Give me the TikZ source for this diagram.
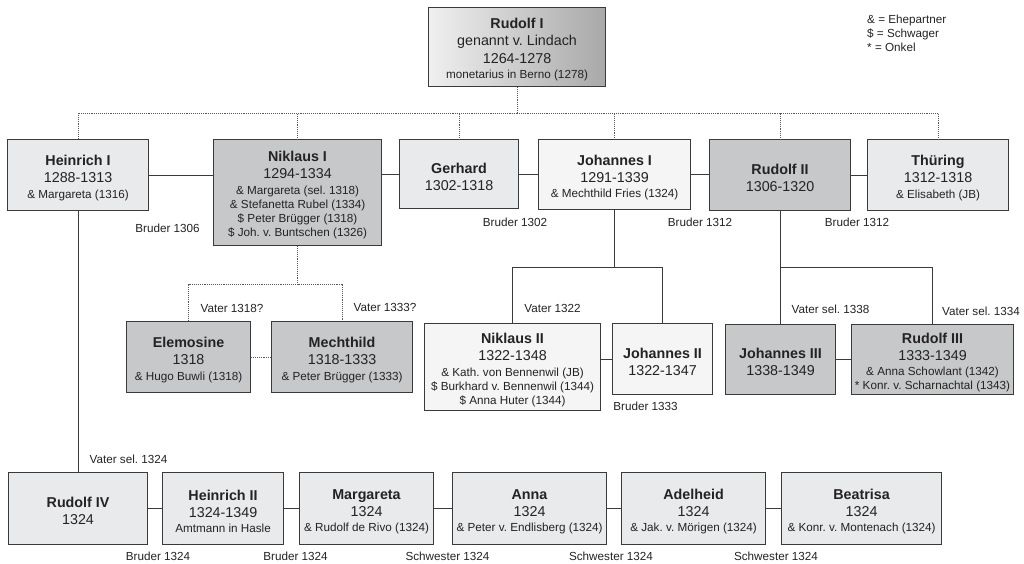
\documentclass[tikz,border=0pt]{standalone}
\usepackage{fontspec}
\setmainfont{Liberation Sans}
\frenchspacing
\definecolor{boxlight}{RGB}{233,234,236}
\definecolor{boxdark}{RGB}{199,200,202}
\definecolor{boxpale}{RGB}{245,245,245}
\definecolor{boxline}{RGB}{58,58,58}
\definecolor{ink}{RGB}{35,35,35}
\newcommand{\sm}{\fontsize{11.7}{14}\selectfont}
\newcommand{\nm}[1]{\rule{0pt}{16pt}\textbf{#1}}

\begin{document}
\begin{tikzpicture}[x=1pt, y=-1pt,
    person/.style={draw=boxline, line width=1.1pt, align=center, text=ink, inner sep=1pt,
        anchor=north west, font=\fontsize{14.3}{14}\selectfont},
    lightbox/.style={person, fill=boxlight},
    darkbox/.style={person, fill=boxdark},
    palebox/.style={person, fill=boxpale},
    kin/.style={draw=boxline, line width=1.1pt},
    descent/.style={draw=boxline!85, line width=0.9pt, densely dotted},
    note/.style={text=ink, font=\sm, inner sep=0pt}]
    \useasboundingbox (0,0) rectangle (1024,563);

    % Stammvater
    \node[person, left color=black!6, right color=black!34, minimum width=177, minimum height=79] (rudolfI) at (428,7)
        {\nm{Rudolf I}\\[2.5pt] genannt v. Lindach\\[4pt] 1264-1278\\[1.5pt] \sm monetarius in Berno (1278)};

    % Legende
    \node[note, anchor=north west, align=left] (legend) at (867,15)
        {\sm\& = Ehepartner\\ \sm\$ = Schwager\\ \sm* = Onkel};

    % Söhne
    \node[lightbox, minimum width=141, minimum height=71] (heinrichI) at (7,139)
        {\nm{Heinrich I}\\[3pt] 1288-1313\\[1.5pt] \sm \& Margareta (1316)};
    \node[darkbox, minimum width=168, minimum height=106] (niklausI) at (213,139)
        {\nm{Niklaus I}\\[3pt] 1294-1334\\[2pt] \sm \& Margareta (sel. 1318)\\ \sm \& Stefanetta Rubel (1334)\\
         \sm \$ Peter Brügger (1318)\\ \sm \$ Joh. v. Buntschen (1326)};
    \node[lightbox, minimum width=119, minimum height=69] (gerhard) at (399,139)
        {\nm{Gerhard}\\[3pt] 1302-1318};
    \node[palebox, minimum width=152, minimum height=70] (johannesI) at (538,139)
        {\nm{Johannes I}\\[3pt] 1291-1339\\[1.5pt] \sm \& Mechthild Fries (1324)};
    \node[darkbox, minimum width=141, minimum height=71] (rudolfII) at (709,139)
        {\nm{Rudolf II}\\[3pt] 1306-1320};
    \node[lightbox, minimum width=141, minimum height=71] (thuering) at (867,139)
        {\nm{Thüring}\\[3pt] 1312-1318\\[1.5pt] \sm \& Elisabeth (JB)};

    % Enkel
    \node[darkbox, minimum width=124, minimum height=71] (elemosine) at (126,321)
        {\nm{Elemosine}\\[3pt] 1318\\[1.5pt] \sm \& Hugo Buwli (1318)};
    \node[darkbox, minimum width=141, minimum height=71] (mechthild) at (271,321)
        {\nm{Mechthild}\\[3pt] 1318-1333\\[1.5pt] \sm \& Peter Brügger (1333)};
    \node[palebox, minimum width=176, minimum height=87] (niklausII) at (424,323)
        {\nm{Niklaus II}\\[3pt] 1322-1348\\[1.5pt] \sm \& Kath. von Bennenwil (JB)\\
         \sm \$ Burkhard v. Bennenwil (1344)\\ \sm \$ Anna Huter (1344)};
    \node[palebox, minimum width=100, minimum height=71] (johannesII) at (612,323)
        {\nm{Johannes II}\\[3pt] 1322-1347};
    \node[darkbox, minimum width=110, minimum height=70] (johannesIII) at (725,324)
        {\nm{Johannes III}\\[3pt] 1338-1349};
    \node[darkbox, minimum width=162, minimum height=70] (rudolfIII) at (851,324)
        {\nm{Rudolf III}\\[3pt] 1333-1349\\[1.5pt] \sm \& Anna Schowlant (1342)\\ \sm * Konr. v. Scharnachtal (1343)};

    % Kinder von Heinrich I
    \node[lightbox, minimum width=139, minimum height=72] (rudolfIV) at (8,472)
        {\nm{Rudolf IV}\\[3pt] 1324};
    \node[lightbox, minimum width=121, minimum height=72] (heinrichII) at (162,472)
        {\nm{Heinrich II}\\[3pt] 1324-1349\\[1.5pt] \sm Amtmann in Hasle};
    \node[lightbox, minimum width=134, minimum height=72] (margareta) at (299,472)
        {\nm{Margareta}\\[3pt] 1324\\[1.5pt] \sm \& Rudolf de Rivo (1324)};
    \node[lightbox, minimum width=154, minimum height=72] (anna) at (452,472)
        {\nm{Anna}\\[3pt] 1324\\[1.5pt] \sm \& Peter v. Endlisberg (1324)};
    \node[lightbox, minimum width=144, minimum height=72] (adelheid) at (621,472)
        {\nm{Adelheid}\\[3pt] 1324\\[1.5pt] \sm \& Jak. v. Mörigen (1324)};
    \node[lightbox, minimum width=160, minimum height=72] (beatrisa) at (781,472)
        {\nm{Beatrisa}\\[3pt] 1324\\[1.5pt] \sm \& Konr. v. Montenach (1324)};

    % Abstammung (gepunktet)
    \draw[descent] (rudolfI.south) -- ++(0,26) coordinate (sonsBar);
    \foreach \son in {heinrichI,niklausI,gerhard,johannesI,rudolfII,thuering}
        \draw[descent] (sonsBar) -| (\son.north);
    \draw[descent] (niklausI.south) -- ++(0,38) coordinate (nikBar);
    \foreach \kid in {elemosine,mechthild}
        \draw[descent] (nikBar) -| (\kid.north);
    \draw[descent] (elemosine.east) -- (elemosine.east -| mechthild.west);

    % Abstammung (sicher)
    \draw[kin] (johannesI.south) -- ++(0,57) coordinate (johBar);
    \foreach \kid in {niklausII,johannesII}
        \draw[kin] (johBar) -| (\kid.north);
    \draw[kin] (rudolfII.south) -- ++(0,56) coordinate (rudBar);
    \foreach \kid in {johannesIII,rudolfIII}
        \draw[kin] (rudBar) -| (\kid.north);
    \draw[kin] (heinrichI.south) -- (rudolfIV.north);

    % Geschwister
    \draw[kin] (heinrichI.east) -- (heinrichI.east -| niklausI.west);
    \draw[kin] (gerhard.west) -- (gerhard.west -| niklausI.east);
    \foreach \a/\b in {gerhard/johannesI,johannesI/rudolfII,rudolfII/thuering}
        \draw[kin] (\a.east) -- (\a.east -| \b.west);
    \draw[kin] (johannesII.west) -- (johannesII.west -| niklausII.east);
    \draw[kin] (johannesIII.east) -- (johannesIII.east -| rudolfIII.west);
    \foreach \a/\b in {rudolfIV/heinrichII,heinrichII/margareta,margareta/anna,anna/adelheid,adelheid/beatrisa}
        \draw[kin] (\a.east) -- (\a.east -| \b.west);

    % Beschriftungen
    \node[note] (lblA) at (167.5,228) {Bruder 1306};
    \node[note] (lblB) at (515,222) {Bruder 1302};
    \node[note] (lblC) at (700,222) {Bruder 1312};
    \node[note] (lblD) at (857,222) {Bruder 1312};
    \node[note] (lblE) at (232,308) {Vater 1318?};
    \node[note] (lblF) at (385,307) {Vater 1333?};
    \node[note] (lblG) at (552.5,308) {Vater 1322};
    \node[note] (lblH) at (830.5,309) {Vater sel. 1338};
    \node[note] (lblI) at (981,311) {Vater sel. 1334};
    \node[note] (lblJ) at (645.5,406) {Bruder 1333};
    \node[note] (lblK) at (128.5,459) {Vater sel. 1324};
    \node[note] (lblL) at (158,556) {Bruder 1324};
    \node[note] (lblM) at (295.5,556) {Bruder 1324};
    \node[note] (lblN) at (447.5,556) {Schwester 1324};
    \node[note] (lblO) at (611,556) {Schwester 1324};
    \node[note] (lblP) at (776,556) {Schwester 1324};
\end{tikzpicture}
\end{document}
